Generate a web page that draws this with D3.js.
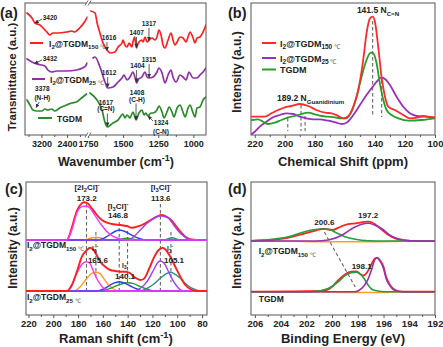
<!DOCTYPE html>
<html>
<head>
<meta charset="utf-8">
<script src="https://cdn.jsdelivr.net/npm/d3@7"></script>
<style>
  body { margin: 0; background: #fff; }
  svg { display: block; }
</style>
</head>
<body>
<svg id="chart" width="443" height="347"></svg>
<script>
// ---------- (a) FT-IR spectra: [wavenumber cm-1, transmittance a.u.] ----------
const irRedLeft = [[3648,122],[3494,117],[3401,112],[3247,110],[3031,103],[2938,100],[2846,102],[2691,102],[2414,103],[2259,104],[2166,103],[2012,107],[1858,113],[1765,118]];
const irRedRight = [[1730,124],[1700,122],[1685,112],[1665,102],[1643,92],[1615,85],[1593,82],[1558,83],[1536,88],[1508,92],[1501,95],[1487,90],[1472,88],[1458,92],[1437,88],[1430,93],[1418,98],[1405,87],[1392,92],[1366,95],[1358,93],[1344,98],[1330,93],[1316,95],[1294,97],[1273,95],[1259,98],[1245,105],[1230,100],[1216,90],[1202,87],[1180,95],[1159,102],[1145,95],[1131,90],[1116,93],[1095,98],[1074,97],[1052,93],[1038,98],[1024,103],[1002,97],[988,92],[974,97],[953,98],[931,103],[910,110]];
const irPurpleLeft = [[3648,76],[3494,73],[3340,71],[3093,69],[3000,65],[2877,63],[2722,64],[2413,64],[2105,65],[1920,67],[1827,69],[1775,72]];
const irPurpleRight = [[1714,77],[1700,78],[1665,68],[1629,53],[1610,47],[1572,48],[1536,53],[1508,57],[1494,60],[1472,55],[1451,58],[1430,63],[1416,58],[1404,52],[1390,56],[1366,58],[1344,63],[1330,58],[1315,57],[1287,58],[1259,63],[1245,67],[1223,62],[1202,52],[1180,60],[1159,65],[1145,58],[1123,53],[1095,60],[1074,58],[1052,55],[1031,63],[1002,57],[974,57],[953,60],[931,63],[910,67]];
const irGreenLeft = [[3648,35],[3556,30],[3463,25],[3340,24],[3185,24],[3093,26],[3000,25],[2877,26],[2784,24],[2630,27],[2413,30],[2259,32],[2105,33],[1950,37],[1795,41]];
const irGreenRight = [[1736,42],[1686,35],[1650,25],[1630,13],[1612,8],[1572,12],[1536,15],[1501,21],[1487,17],[1472,20],[1451,17],[1430,23],[1418,19],[1408,15],[1387,22],[1366,25],[1351,20],[1338,22],[1324,19],[1300,22],[1287,22],[1259,25],[1245,29],[1223,23],[1209,17],[1188,23],[1173,28],[1152,23],[1138,18],[1116,27],[1095,30],[1074,23],[1059,18],[1038,27],[1024,30],[1002,22],[988,18],[974,27],[953,28],[931,35],[910,38]];
const irTicksLeft = [3200, 2400, 1750];
const irTicksRight = [1500, 1250, 1000];

// ---------- (b) 13C NMR: [chemical shift ppm, intensity a.u.] ----------
const nmrRed = [[222,18.3],[213.3,18.3],[208.9,21.7],[204.4,25],[200,27.7],[195.6,29],[190,31],[184.4,29],[178.9,25],[173.3,22.3],[168.9,21.7],[164.4,19],[161.1,16.7],[158.2,18.3],[154.4,28.3],[151.1,45],[147.8,75],[145.6,101.7],[143.3,116.7],[141.5,118.3],[140,113.3],[137.8,88.3],[135.6,58.3],[133.3,38.3],[131.1,28.3],[126.7,25],[121.1,20],[116.7,16.7],[111.1,17.7],[107.8,19],[104.4,18.3],[100,17.3]];
const nmrPurple = [[222,1],[220,3.3],[216.7,8.3],[212.2,13.3],[207.8,17.7],[203.3,20],[198.9,21.7],[194.4,21],[190,18.3],[185.6,16.7],[181.1,15.7],[176.7,15.7],[171.1,14.3],[165.6,12.3],[162.2,11],[158.9,12.3],[154.4,20],[150,30],[145.6,40],[141.1,49],[137.8,55],[135.6,57.3],[133.3,56],[130,50],[125.6,38.3],[121.1,28.3],[116.7,21.7],[112.2,19],[106.7,18.3],[100,17.3]];
const nmrGreen = [[222,15],[217.8,15.7],[214.4,13.3],[211.1,11],[206.7,12.3],[202.2,15],[197.8,17.7],[193.3,19],[188.9,21],[184.4,22.3],[180,20.7],[175.6,19],[171.1,18.3],[166.7,17.7],[162.2,16.7],[158.9,16.7],[155.6,23.3],[152.2,38.3],[148.9,58.3],[145.6,75],[142.7,82.3],[141.1,81.7],[138.9,71.7],[136.7,51.7],[134.4,35],[132.2,25],[128.9,20],[124.4,16.7],[117.8,14.3],[108.9,15],[100,16.7]];
const nmrTicks = [220, 200, 180, 160, 140, 120, 100];

// ---------- (c) Raman fits: [shift cm-1, intensity above baseline] ----------
const ramanOffsets = [75, 24];   // I2@TGDM150, I2@TGDM25
const raman150Sum = [[222,0],[189,0],[186.4,6.7],[183.7,18.3],[181,29],[178.3,35],[175,37.7],[172.4,36.7],[168.9,31.7],[164.8,25],[160.8,20],[156.7,17.3],[151.4,15.7],[146,15],[140.6,14],[136.6,12.3],[132.5,13.3],[128.5,15],[124.4,17.7],[120.4,20.7],[116.4,23.3],[112.9,25],[109.6,24],[105.6,20.7],[101.6,15],[97.5,8.3],[93.5,3.3],[89.5,0.7],[84.1,0],[76,0]];
const raman150Magenta = [[222,0],[189,0],[185,10],[181,26.7],[177,33.3],[173.2,34],[170.5,32],[167.5,26.7],[162.1,16.7],[156.7,8.3],[151.4,3.3],[146,1],[140.6,0],[76,0]];
const raman150Orange = [[222,0],[175.6,0],[170.2,1.7],[165.6,2.7],[160.8,1.7],[155.4,0],[76,0]];
const raman150Blue = [[222,0],[164.8,0],[159.4,1.7],[154,5.7],[149.5,9],[146.8,10],[143.3,9],[137.9,5.7],[132.5,2.3],[127.1,0.3],[122,0],[76,0]];
const raman150Green = [[222,0],[151.4,0],[140.6,1.7],[129.8,0],[76,0]];
const raman150Purple = [[222,0],[140.6,0],[135.2,3.3],[129.8,10],[124.4,16.7],[119.1,21.7],[115.5,23.7],[113.6,24.2],[111,23.7],[107,21.7],[102.9,15],[97.5,6.7],[92.1,1.7],[86.8,0],[76,0]];
const raman150Teal = [[222,0],[111,0],[104.3,2.3],[97.5,0],[76,0]];
const raman25Sum = [[222,0],[189,0],[185,6],[181,19.3],[176.9,34.3],[172.9,41],[170.2,43.3],[167.5,41],[164.3,34.3],[162.1,29.3],[158.1,24.3],[154,21],[150,20],[146,19.3],[141.9,19.3],[137.9,17.7],[133.9,13.3],[129.8,11],[127.1,12],[123.1,21],[119.1,32.7],[115,41],[111.8,43.3],[109.1,41],[105.6,34.3],[101.6,24.3],[97.5,14.3],[93.5,6],[89.5,2],[84.1,0],[76,0]];
const raman25Magenta = [[222,0],[189,0],[185,6],[181,17.7],[176.9,26.7],[173.2,29.3],[170.5,27.7],[167.5,19.3],[163.5,9.3],[159.4,2.7],[155.4,0],[76,0]];
const raman25Orange = [[222,0],[183.7,0],[178.3,4.3],[172.9,12.7],[168.9,17.7],[165.6,18.7],[162.5,17.7],[159.4,12.7],[155.4,6],[151.4,2],[147.3,0],[76,0]];
const raman25Blue = [[222,0],[164.8,0],[159.4,2],[154,6],[150,8.3],[146.8,9.3],[143.3,8.3],[137.9,5],[132.5,2],[127.1,0],[76,0]];
const raman25Green = [[222,0],[162.1,0],[154,2.7],[146,6.7],[140.1,8.3],[135.2,7.3],[129.8,4.3],[124.4,2],[119.1,0],[76,0]];
const raman25Purple = [[222,0],[135.2,0],[129.8,2.7],[124.4,9.3],[119.1,21],[115.5,28.7],[113.6,30],[110.5,27.7],[107,19.3],[102.9,9.3],[98.9,2.7],[94.8,0],[76,0]];
const raman25Teal = [[222,0],[129.8,0],[124.4,2.7],[119.1,6.7],[113.7,12.7],[108.3,17.7],[105.1,18.7],[102.9,17.7],[97.5,12.7],[92.1,6],[86.8,2],[81.4,0],[76,0]];
const ramanTicks = [220, 200, 180, 160, 140, 120, 100, 80];

// ---------- (d) XPS I 3d: [binding energy eV, intensity above baseline] ----------
const xpsOffsets = [74, 23.3];   // I2@TGDM150, TGDM
const xps150Sum = [[206.3,0],[204.7,1],[203.4,3.3],[202.1,7.7],[201.3,10.3],[200.8,12],[200.5,12],[200,11],[199.5,13.3],[199,16],[198.2,17.7],[197.2,19.3],[196.9,18.5],[196.6,16],[196.1,11],[195.6,6],[195.1,2.7],[194.3,0.7],[193.5,0],[192,0]];
const xps150Green = [[206.3,0.3],[204.7,1.7],[203.4,4.3],[202.4,8.3],[201.6,11],[200.6,12],[200.1,11],[199.6,7.7],[199,4.3],[198.2,1.7],[197.2,0.3],[195.6,0],[192,0]];
const xps150Purple = [[206.3,0],[201.3,0],[200.3,1],[199.2,6],[198.5,12],[197.7,16.7],[197.2,17.7],[196.7,16],[196.1,12],[195.6,6.7],[195.1,3.3],[194.3,0.7],[193.5,0],[192,0]];
const xps150Orange = [[206.3,0],[203,-0.3],[201,-0.7],[197,-0.8],[195,-0.4],[193.5,0],[192,0]];
const xpsTGDMSum = [[206.3,0],[200.8,0.7],[200,5],[199.5,11.7],[199,17.3],[198.5,20],[198.1,20.2],[197.8,17.5],[197.55,16.2],[197.3,19],[197,26],[196.7,32.7],[196.5,34],[196.3,31.7],[196,25],[195.8,15],[195.5,6.7],[195.1,1.7],[194.5,0],[192,0]];
const xpsTGDMGreen = [[206.3,0],[201.6,0],[200.3,3.3],[199.5,10],[199,16],[198.5,19],[198.1,19.5],[197.8,17.5],[197.5,13],[197.2,6.7],[196.8,1.7],[195.9,0],[192,0]];
const xpsTGDMPurple = [[206.3,0],[198.2,0],[197.7,3.3],[197.3,10],[196.9,23.3],[196.7,31.7],[196.5,34],[196.3,31.3],[196,23.3],[195.8,13.3],[195.5,6],[195.1,1.3],[194.5,0],[192,0]];
const xpsTGDMOrange = [[206.3,0],[201,-0.3],[199,-0.8],[196,-0.8],[195,-0.3],[194,0],[192,0]];
const xpsTicks = [206, 204, 202, 200, 198, 196, 194, 192];

// ---------- drawing helpers ----------
const FONT = "'Liberation Sans', Arial, Helvetica, sans-serif";
const svg = d3.select("#chart").attr("font-family", FONT).attr("font-weight", "bold");
const defs = svg.append("defs");
defs.append("marker").attr("id", "arrowHead")
  .attr("viewBox", "0 0 10 10").attr("refX", 9).attr("refY", 5)
  .attr("markerUnits", "userSpaceOnUse").attr("markerWidth", 4).attr("markerHeight", 4)
  .attr("orient", "auto")
  .append("path").attr("d", "M0,0L10,5L0,10z").attr("fill", "#333");

function addClip(id, l, t, r, b) {
  defs.append("clipPath").attr("id", id).append("rect")
    .attr("x", l).attr("y", t).attr("width", r - l).attr("height", b - t);
}

function frame(g, box) {
  g.append("rect").attr("x", box.l).attr("y", box.t)
    .attr("width", box.r - box.l).attr("height", box.b - box.t)
    .attr("fill", "none").attr("stroke", "#555").attr("stroke-width", 1);
}

function bottomAxis(g, x, yPix, majors, minors, size) {
  const specs = [
    d3.axisBottom(x).tickValues(minors).tickSize(2).tickFormat(""),
    d3.axisBottom(x).tickValues(majors).tickSize(3).tickPadding(2.5).tickFormat(d3.format("d"))
  ];
  specs.forEach(ax => {
    const a = g.append("g").attr("transform", `translate(0,${yPix})`).call(ax);
    a.attr("font-family", FONT);
    a.select(".domain").remove();
    a.selectAll("line").attr("stroke", "#555");
    a.selectAll("text").attr("font-size", size).attr("font-weight", "bold").attr("fill", "#222");
  });
}

function curve(g, x, y, data, color, width, offset, clipId) {
  const line = d3.line()
    .x(d => x(d[0]))
    .y(d => y(d[1] + (offset || 0)))
    .curve(d3.curveMonotoneX);
  g.append("path").datum(data)
    .attr("fill", "none").attr("stroke", color).attr("stroke-width", width)
    .attr("stroke-linejoin", "round").attr("stroke-linecap", "round")
    .attr("clip-path", clipId ? `url(#${clipId})` : null)
    .attr("d", line);
}

// rich text: parts are strings or [text, "sub" | "sup" | "deg"]
function rich(g, px, py, parts, size, anchor, color) {
  const t = g.append("text").attr("x", px).attr("y", py)
    .attr("font-size", size).attr("text-anchor", anchor || "start")
    .attr("fill", color || "#222");
  let shift = 0;
  parts.forEach(p => {
    const [str, kind] = typeof p === "string" ? [p, ""] : p;
    const ts = t.append("tspan").text(str);
    let target = 0;
    if (kind === "sub" || kind === "deg") target = size * 0.3;
    if (kind === "sup") target = -size * 0.4;
    ts.attr("dy", target - shift);
    shift = target;
    if (kind === "sub" || kind === "sup") ts.attr("font-size", size * 0.72);
    if (kind === "deg") ts.attr("font-size", size * 0.72).attr("font-weight", "normal").attr("fill", "#555");
  });
  return t;
}

function arrow(g, x1, y1, x2, y2) {
  g.append("line").attr("x1", x1).attr("y1", y1).attr("x2", x2).attr("y2", y2)
    .attr("stroke", "#333").attr("stroke-width", 0.8).attr("marker-end", "url(#arrowHead)");
}

function dashed(g, x1, y1, x2, y2) {
  g.append("line").attr("x1", x1).attr("y1", y1).attr("x2", x2).attr("y2", y2)
    .attr("stroke", "#666").attr("stroke-width", 1.1).attr("stroke-dasharray", "3.5,2.5");
}

function yTitle(g, cx, cy, text, size) {
  g.append("text").attr("transform", `translate(${cx},${cy}) rotate(-90)`)
    .attr("text-anchor", "middle").attr("font-size", size).attr("fill", "#222").text(text);
}

function panelLabel(g, px, py, text) {
  g.append("text").attr("x", px).attr("y", py).attr("font-size", 14.5).attr("fill", "#222").text(text);
}

const lbl150 = ["I", ["2", "sub"], ["@TGDM", ""], ["150", "sub"], [" ℃", "deg"]];
const lbl25 = ["I", ["2", "sub"], ["@TGDM", ""], ["25", "sub"], [" ℃", "deg"]];

// ================= (a) FT-IR =================
(function () {
  const box = { l: 25, r: 206, t: 3, b: 135, brk: 88 };
  const g = svg.append("g");
  const xL = d3.scaleLinear().domain([3710, 1750]).range([box.l, box.brk]);
  const xR = d3.scaleLinear().domain([1750, 910]).range([box.brk, box.r]);
  const y = d3.scaleLinear().domain([0, 132]).range([box.b, box.t]);
  addClip("clipAL", box.l, box.t, box.brk - 0.5, box.b);
  addClip("clipAR", box.brk + 0.5, box.t, box.r, box.b);

  frame(g, box);
  bottomAxis(g, xL, box.b, irTicksLeft, [3600, 2800, 2000], 9);
  bottomAxis(g, xR, box.b, irTicksRight, [1625, 1375, 1125], 9);

  const red = "#ff2020", purple = "#9030a8", green = "#2b8a2b";
  curve(g, xL, y, irRedLeft, red, 1.7, 0, "clipAL");
  curve(g, xR, y, irRedRight, red, 1.7, 0, "clipAR");
  curve(g, xL, y, irPurpleLeft, purple, 1.7, 0, "clipAL");
  curve(g, xR, y, irPurpleRight, purple, 1.7, 0, "clipAR");
  curve(g, xL, y, irGreenLeft, green, 1.7, 0, "clipAL");
  curve(g, xR, y, irGreenRight, green, 1.7, 0, "clipAR");

  // axis break marks
  [box.t, box.b].forEach(yy => {
    g.append("rect").attr("x", box.brk - 1.5).attr("y", yy - 1.5).attr("width", 3).attr("height", 3).attr("fill", "#fff");
    [-1.5, 1.5].forEach(dx => {
      g.append("line").attr("x1", box.brk + dx - 1.5).attr("y1", yy + 2.5)
        .attr("x2", box.brk + dx + 1.5).attr("y2", yy - 2.5)
        .attr("stroke", "#555").attr("stroke-width", 0.9);
    });
  });

  // legend
  [[red, 92, 88.5, lbl150, 30, 43, 49], [purple, 56, 52.5, lbl25, 32, 45, 50], [green, 17, 13.5, ["TGDM"], 38, 52, 57]]
    .forEach(([c, v, tv, parts, x1, x2, tx]) => {
      g.append("line").attr("x1", x1).attr("x2", x2).attr("y1", y(v)).attr("y2", y(v))
        .attr("stroke", c).attr("stroke-width", 2);
      rich(g, tx, y(tv), parts, 8.5);
    });

  // peak annotations
  const fs = 6.5;
  rich(g, xL(3160), y(115.5), ["3420"], fs);
  arrow(g, xL(3180), y(116), xL(3400), y(112));
  rich(g, xL(3160), y(74.5), ["3432"], fs);
  arrow(g, xL(3180), y(75), xL(3410), y(71.5));
  rich(g, xL(3170), y(44), ["3378"], fs, "middle");
  rich(g, xL(3170), y(35.5), ["(N-H)"], fs, "middle");
  arrow(g, xL(3270), y(33), xL(3365), y(27.5));

  rich(g, xR(1600), y(95.5), ["1616"], fs, "middle");
  arrow(g, xR(1615), y(93), xR(1615), y(84.5));
  rich(g, xR(1403), y(100.5), ["1407"], fs, "middle");
  arrow(g, xR(1405), y(98), xR(1405), y(87.5));
  rich(g, xR(1316), y(109.5), ["1317"], fs, "middle");
  arrow(g, xR(1316), y(107), xR(1316), y(94.5));

  rich(g, xR(1600), y(60.5), ["1612"], fs, "middle");
  arrow(g, xR(1610), y(58), xR(1610), y(48));
  rich(g, xR(1398), y(67.5), ["1404"], fs, "middle");
  arrow(g, xR(1404), y(65), xR(1404), y(53));
  rich(g, xR(1316), y(73.5), ["1315"], fs, "middle");
  arrow(g, xR(1315), y(71), xR(1315), y(57.5));

  rich(g, xR(1622), y(30.5), ["1617"], fs, "middle");
  rich(g, xR(1622), y(24), ["(C=N)"], fs, "middle");
  arrow(g, xR(1612), y(21.5), xR(1612), y(9));
  rich(g, xR(1401), y(40.5), ["1408"], fs, "middle");
  rich(g, xR(1401), y(33.5), ["(C-H)"], fs, "middle");
  arrow(g, xR(1408), y(31.5), xR(1408), y(15.5));
  rich(g, xR(1230), y(10.5), ["1324"], fs, "middle");
  rich(g, xR(1230), y(1.5), ["(C-N)"], fs, "middle");
  arrow(g, xR(1287), y(14), xR(1322), y(19));

  // titles
  yTitle(g, 15.5, 77, "Transmittance (a.u.)", 11.5);
  rich(g, 116, 166, ["Wavenumber ", ["(cm", ""], ["-1", "sup"], [")", ""]], 12.5, "middle");
  panelLabel(g, 0, 18, "(a)");
})();

// ================= (b) 13C NMR =================
(function () {
  const box = { l: 251, r: 435, t: 3, b: 135 };
  const g = svg.append("g");
  const x = d3.scaleLinear().domain([222.5, 100]).range([box.l, box.r]);
  const y = d3.scaleLinear().domain([0, 132]).range([box.b, box.t]);
  addClip("clipB", box.l, box.t, box.r, box.b);
  frame(g, box);
  bottomAxis(g, x, box.b, nmrTicks, [210, 190, 170, 150, 130, 110], 9.5);

  // peak guides
  dashed(g, x(141.5), y(114), x(141.5), y(18));
  dashed(g, x(135.5), y(55), x(135.5), y(18));
  dashed(g, x(198), y(17), x(198), y(4));
  dashed(g, x(189.2), y(30), x(189.2), y(4));
  dashed(g, x(186.5), y(19), x(186.5), y(4));

  curve(g, x, y, nmrPurple, "#9b30b8", 1.8, 0, "clipB");
  curve(g, x, y, nmrGreen, "#22a02a", 1.8, 0, "clipB");
  curve(g, x, y, nmrRed, "#ff2a2a", 1.8, 0, "clipB");

  rich(g, x(152), y(122), ["141.5 N", ["C=N", "sub"]], 8.5);
  rich(g, x(205.2), y(34), ["189.2 N", ["Guanidinium", "sub"]], 8.5);

  [["#ff2a2a", 92, 88.5, lbl150], ["#9b30b8", 77, 73.5, lbl25], ["#22a02a", 65.5, 62, ["TGDM"]]]
    .forEach(([c, v, tv, parts]) => {
      g.append("line").attr("x1", 262).attr("x2", 276).attr("y1", y(v)).attr("y2", y(v))
        .attr("stroke", c).attr("stroke-width", 2);
      rich(g, 280, y(tv), parts, 9);
    });

  yTitle(g, 241, 72, "Intensity (a.u.)", 12);
  g.append("text").attr("x", 343).attr("y", 166).attr("text-anchor", "middle")
    .attr("font-size", 13).attr("fill", "#222").text("Chemical Shift (ppm)");
  panelLabel(g, 228, 18, "(b)");
})();

// ================= (c) Raman =================
(function () {
  const box = { l: 26, r: 207, t: 182, b: 315 };
  const g = svg.append("g");
  const x = d3.scaleLinear().domain([222, 76]).range([box.l, box.r]);
  const y = d3.scaleLinear().domain([0, 133]).range([box.b, box.t]);
  addClip("clipC", box.l, box.t, box.r, box.b);
  frame(g, box);
  bottomAxis(g, x, box.b, ramanTicks, [210, 190, 170, 150, 130, 110, 90], 9.5);

  dashed(g, x(173.2), y(111), x(173.2), y(24));
  dashed(g, x(165.6), y(83), x(165.6), y(37));
  dashed(g, x(146.8), y(93), x(146.8), y(24));
  dashed(g, x(140.1), y(84), x(140.1), y(33));
  dashed(g, x(113.6), y(111), x(113.6), y(24));
  dashed(g, x(105.1), y(83), x(105.1), y(33));

  const comp = [
    ["#ff9a1f", raman150Orange, raman25Orange],
    ["#1fa01f", raman150Green, raman25Green],
    ["#2a8f80", raman150Teal, raman25Teal],
    ["#2a3cff", raman150Blue, raman25Blue],
    ["#9b3cff", raman150Purple, raman25Purple],
    ["#ff33ff", raman150Magenta, raman25Magenta]
  ];
  curve(g, x, y, raman150Sum, "#ff1f1f", 1.9, ramanOffsets[0], "clipC");
  comp.forEach(([c, a]) => curve(g, x, y, a, c, 1.4, ramanOffsets[0], "clipC"));
  comp.forEach(([c, , b]) => curve(g, x, y, b, c, 1.4, ramanOffsets[1], "clipC"));
  curve(g, x, y, raman25Sum, "#ff1f1f", 1.9, ramanOffsets[1], "clipC");

  const fs = 8;
  rich(g, x(172.8), y(125), ["[2I", ["2", "sub"], ["Cl]", ""], ["-", "sup"]], fs, "middle");
  rich(g, x(173), y(114), ["173.2"], fs, "middle");
  rich(g, x(147.8), y(106), ["[I", ["3", "sub"], ["Cl]", ""], ["-", "sup"]], fs, "middle");
  rich(g, x(147.8), y(97), ["146.8"], fs, "middle");
  rich(g, x(113.1), y(125), ["[I", ["3", "sub"], ["Cl]", ""], ["-", "sup"]], fs, "middle");
  rich(g, x(113.3), y(114), ["113.6"], fs, "middle");
  rich(g, x(166.3), y(64), ["I", ["3", "sub"], ["-", "sup"]], 6.5, "middle");
  rich(g, x(164), y(52), ["165.6"], fs, "middle");
  rich(g, x(142.1), y(47.5), ["I", ["3", "sub"], ["-", "sup"]], 6.5, "middle");
  rich(g, x(142.1), y(36.5), ["140.1"], fs, "middle");
  rich(g, x(105.8), y(64), ["I", ["3", "sub"], ["-", "sup"]], 6.5, "middle");
  rich(g, x(102.6), y(52), ["105.1"], fs, "middle");
  rich(g, x(221.2), y(67), lbl150, 8.5);
  rich(g, x(221.2), y(15), lbl25, 8.5);

  yTitle(g, 17, 248, "Intensity (a.u.)", 12);
  rich(g, 116, 343, ["Raman shift (cm", ["-1", "sup"], [")", ""]], 13, "middle");
  panelLabel(g, 5, 194, "(c)");
})();

// ================= (d) XPS =================
(function () {
  const box = { l: 251, r: 435, t: 182, b: 315 };
  const g = svg.append("g");
  const x = d3.scaleLinear().domain([206.3, 192]).range([box.l, box.r]);
  const y = d3.scaleLinear().domain([0, 133]).range([box.b, box.t]);
  addClip("clipD", box.l, box.t, box.r, box.b);
  frame(g, box);
  bottomAxis(g, x, box.b, xpsTicks, [205, 203, 201, 199, 197, 195, 193], 9.5);

  curve(g, x, y, xps150Orange, "#f5a030", 1.6, xpsOffsets[0], "clipD");
  curve(g, x, y, xps150Sum, "#ff2020", 1.8, xpsOffsets[0], "clipD");
  curve(g, x, y, xps150Green, "#22a040", 1.6, xpsOffsets[0], "clipD");
  curve(g, x, y, xps150Purple, "#9a30b0", 1.6, xpsOffsets[0], "clipD");
  curve(g, x, y, xpsTGDMOrange, "#f5a030", 1.6, xpsOffsets[1], "clipD");
  curve(g, x, y, xpsTGDMSum, "#ff2020", 1.8, xpsOffsets[1], "clipD");
  curve(g, x, y, xpsTGDMGreen, "#22a040", 1.6, xpsOffsets[1], "clipD");
  curve(g, x, y, xpsTGDMPurple, "#9a30b0", 1.6, xpsOffsets[1], "clipD");

  dashed(g, x(200.6), y(83), x(198.2), y(28));

  rich(g, x(200.6), y(90), ["200.6"], 8, "middle");
  rich(g, x(197.2), y(97), ["197.2"], 8, "middle");
  rich(g, x(197.7), y(46), ["198.1"], 8, "middle");
  rich(g, x(205.7), y(61), lbl150, 8.5);
  rich(g, x(205.7), y(13), ["TGDM"], 8.5);

  yTitle(g, 241, 248, "Intensity (a.u.)", 12);
  g.append("text").attr("x", 343).attr("y", 343).attr("text-anchor", "middle")
    .attr("font-size", 13).attr("fill", "#222").text("Binding Energy (eV)");
  panelLabel(g, 228, 194, "(d)");
})();
</script>
</body>
</html>
